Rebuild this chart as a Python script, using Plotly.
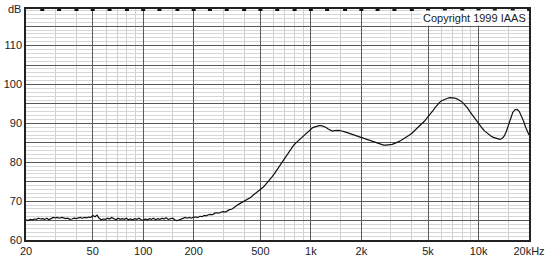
import plotly.graph_objects as go

# ---- data -------------------------------------------------------------
freq_low = [20, 20.6, 21.2, 21.8, 22.4, 23.1, 23.7, 24.4, 25.1, 25.9, 26.6, 27.4, 28.2, 29.0,
            29.9, 30.8, 31.6, 32.6, 33.5, 34.5, 35.5, 36.5, 37.6, 38.7, 39.8, 41.0, 42.2, 43.4,
            44.7, 46.0, 47.3, 48.7, 50.1, 51.6, 53.1, 54.6, 56.2, 57.8, 59.6, 61.3, 63.1, 64.9,
            66.8, 68.8, 70.8, 72.9, 75.0, 77.2, 79.4, 81.8, 84.1, 86.6, 89.1, 91.7, 94.4, 97.2,
            100, 103, 106, 109, 112, 115, 119, 122, 126, 130, 133, 137, 141, 145, 150, 154,
            158, 163, 168, 173, 178, 183, 188, 194, 200]
spl_low = [65.2, 65.0, 65.3, 65.2, 65.4, 65.3, 65.6, 65.4, 65.5, 65.3, 65.6, 65.2, 65.5, 65.8,
           65.7, 65.8, 65.6, 65.8, 65.7, 65.5, 65.6, 65.3, 65.4, 65.6, 65.5, 65.7, 65.8, 65.6,
           65.8, 65.7, 65.9, 65.8, 66.3, 66.0, 66.4, 65.6, 65.2, 65.4, 65.3, 65.6, 65.4, 65.8,
           65.5, 65.2, 65.6, 65.3, 65.5, 65.3, 65.6, 65.2, 65.4, 65.2, 65.5, 65.3, 65.6, 65.2,
           65.1, 65.4, 65.2, 65.5, 65.3, 65.6, 65.2, 65.5, 65.3, 65.6, 65.4, 65.7, 65.3, 65.5,
           65.6, 65.2, 65.0, 65.1, 65.4, 65.5, 65.8, 65.6, 65.8, 65.6, 65.9]

freq_mid = [206, 212, 218, 225, 231, 238, 245, 252, 260, 267, 275, 283, 292, 300, 309, 318,
            327, 337, 347, 357, 368, 379, 390, 402, 414, 426, 439, 452, 465, 479, 493, 508,
            523, 538, 554, 571, 588, 605, 623, 642, 661, 681, 701, 722, 743, 765, 788, 812,
            836, 861, 887, 913, 940, 968, 997, 1027, 1058, 1090, 1122, 1156, 1190, 1226,
            1263, 1300, 1339, 1379, 1420, 1463, 1507, 1552, 1598, 1646, 1695, 1746, 1798,
            1852, 1908, 1965, 2024, 2084, 2147, 2211, 2277, 2345, 2416, 2488, 2562, 2639,
            2718, 2800, 2884, 2970, 3059, 3151, 3245, 3342, 3443, 3546, 3652, 3761, 3874,
            3990, 4110, 4233, 4360, 4490, 4625, 4764, 4906]
spl_mid = [65.9, 65.8, 66.1, 66.0, 66.3, 66.2, 66.5, 66.6, 66.5, 66.9, 67.0, 66.9, 67.2, 67.3,
           67.2, 67.6, 67.8, 67.9, 68.4, 68.7, 69.1, 69.4, 69.6, 70.0, 70.3, 70.6, 71.0, 71.5,
           71.9, 72.3, 72.7, 73.2, 73.7, 74.3, 74.9, 75.6, 76.3, 77.0, 77.8, 78.6, 79.5, 80.4,
           81.3, 82.1, 82.9, 83.6, 84.3, 84.9, 85.4, 85.9, 86.5, 87.1, 87.6, 88.1, 88.6, 88.9,
           89.1, 89.3, 89.4, 89.4, 89.3, 89.0, 88.6, 88.2, 88.0, 88.1, 88.2, 88.2, 88.1, 88.0,
           87.8, 87.6, 87.4, 87.2, 87.0, 86.8, 86.6, 86.4, 86.2, 86.0, 85.8, 85.6, 85.4, 85.2,
           85.0, 84.8, 84.6, 84.5, 84.4, 84.4, 84.4, 84.5, 84.6, 84.8, 85.0, 85.3, 85.6, 85.9,
           86.2, 86.6, 87.0, 87.4, 87.9, 88.4, 89.0, 89.5, 90.0, 90.6, 91.3]

freq_high = [5053, 5205, 5361, 5521, 5687, 5857, 6033, 6214, 6400, 6592, 6790, 6993, 7203,
             7419, 7642, 7871, 8107, 8350, 8601, 8859, 9125, 9398, 9680, 9971, 10270, 10578,
             10895, 11222, 11559, 11906, 12263, 12631, 13010, 13400, 13802, 14216, 14642,
             15082, 15534, 16000, 16480, 16974, 17484, 18008, 18548, 19105, 19678, 20000]
spl_high = [91.9, 92.6, 93.3, 94.1, 94.8, 95.4, 95.8, 96.1, 96.3, 96.5, 96.6, 96.6, 96.5,
            96.3, 96.1, 95.7, 95.2, 94.6, 93.9, 93.1, 92.3, 91.5, 90.7, 89.9, 89.2, 88.6,
            88.0, 87.5, 87.1, 86.7, 86.4, 86.2, 86.1, 85.9, 86.1, 86.7, 87.9, 89.5, 91.3,
            92.8, 93.5, 93.6, 93.1, 92.0, 90.6, 89.0, 87.6, 87.0]

# axis labelling
x_major = [20, 50, 100, 200, 500, 1000, 2000, 5000, 10000, 20000]
x_labels = ["20", "50", "100", "200", "500", "1k", "2k", "5k", "10k", "20kHz"]
x_minor = [30, 40, 60, 70, 80, 90, 150, 300, 400, 600, 700, 800, 900, 1500,
           3000, 4000, 6000, 7000, 8000, 9000, 15000]
y_major = [60, 65, 70, 75, 80, 85, 90, 95, 100, 105, 110, 115]
y_labels = ["60", "", "70", "", "80", "", "90", "", "100", "", "110", ""]
third_octave = [20, 25, 31.5, 40, 50, 63, 80, 100, 125, 160, 200, 250, 315, 400, 500, 630,
                800, 1000, 1250, 1600, 2000, 2500, 3150, 4000, 5000, 6300, 8000, 10000,
                12500, 16000, 20000]
Y_MIN, Y_MAX = 60, 119.4

freqs = freq_low + freq_mid + freq_high
spl = spl_low + spl_mid + spl_high

FONT = "Liberation Sans, Arial, sans-serif"
TXT = "#222222"

fig = go.Figure()
fig.add_trace(go.Scatter(x=freqs, y=spl, mode="lines",
                         line=dict(color="#111111", width=1.2), hoverinfo="skip"))
fig.add_trace(go.Scatter(x=third_octave, y=[Y_MAX] * len(third_octave), mode="markers",
                         marker=dict(symbol="square", size=4, color="#111111"),
                         cliponaxis=False, hoverinfo="skip"))

fig.update_layout(
    width=550, height=261,
    margin=dict(l=26, r=21, t=9, b=21),
    paper_bgcolor="white", plot_bgcolor="white",
    showlegend=False,
    font=dict(family=FONT, size=11, color=TXT),
    xaxis=dict(
        type="log", range=[1.30103, 4.30103], automargin=False,
        tickmode="array", tickvals=x_major, ticktext=x_labels,
        showgrid=True, gridcolor="#5a5a5a", gridwidth=1.2,
        minor=dict(tickmode="array", tickvals=x_minor, showgrid=True,
                   gridcolor="#cfcfcf", gridwidth=1),
        showline=True, linecolor="#222222", linewidth=1.5, mirror=True,
        ticks="", zeroline=False, tickfont=dict(size=11, color=TXT),
    ),
    yaxis=dict(
        range=[Y_MIN, Y_MAX], automargin=False,
        tickmode="array", tickvals=y_major, ticktext=y_labels,
        showgrid=True, gridcolor="#5a5a5a", gridwidth=1.2,
        minor=dict(tick0=60, dtick=1, showgrid=True, gridcolor="#d6d6d6", gridwidth=1),
        showline=True, linecolor="#222222", linewidth=1.5, mirror=True,
        ticks="", zeroline=False, tickfont=dict(size=11, color=TXT),
    ),
    annotations=[
        dict(text="dB", x=0, xref="paper", y=Y_MAX, yref="y", xanchor="right",
             yanchor="middle", xshift=-3, showarrow=False,
             font=dict(size=11, color=TXT, family=FONT)),
        dict(text="Copyright 1999 IAAS", x=1, xref="paper", y=1, yref="paper",
             xanchor="right", yanchor="top", xshift=-1, yshift=-1, showarrow=False,
             bgcolor="white", borderpad=1,
             font=dict(size=11, color=TXT, family=FONT)),
    ],
)

fig.write_html("out.html")
